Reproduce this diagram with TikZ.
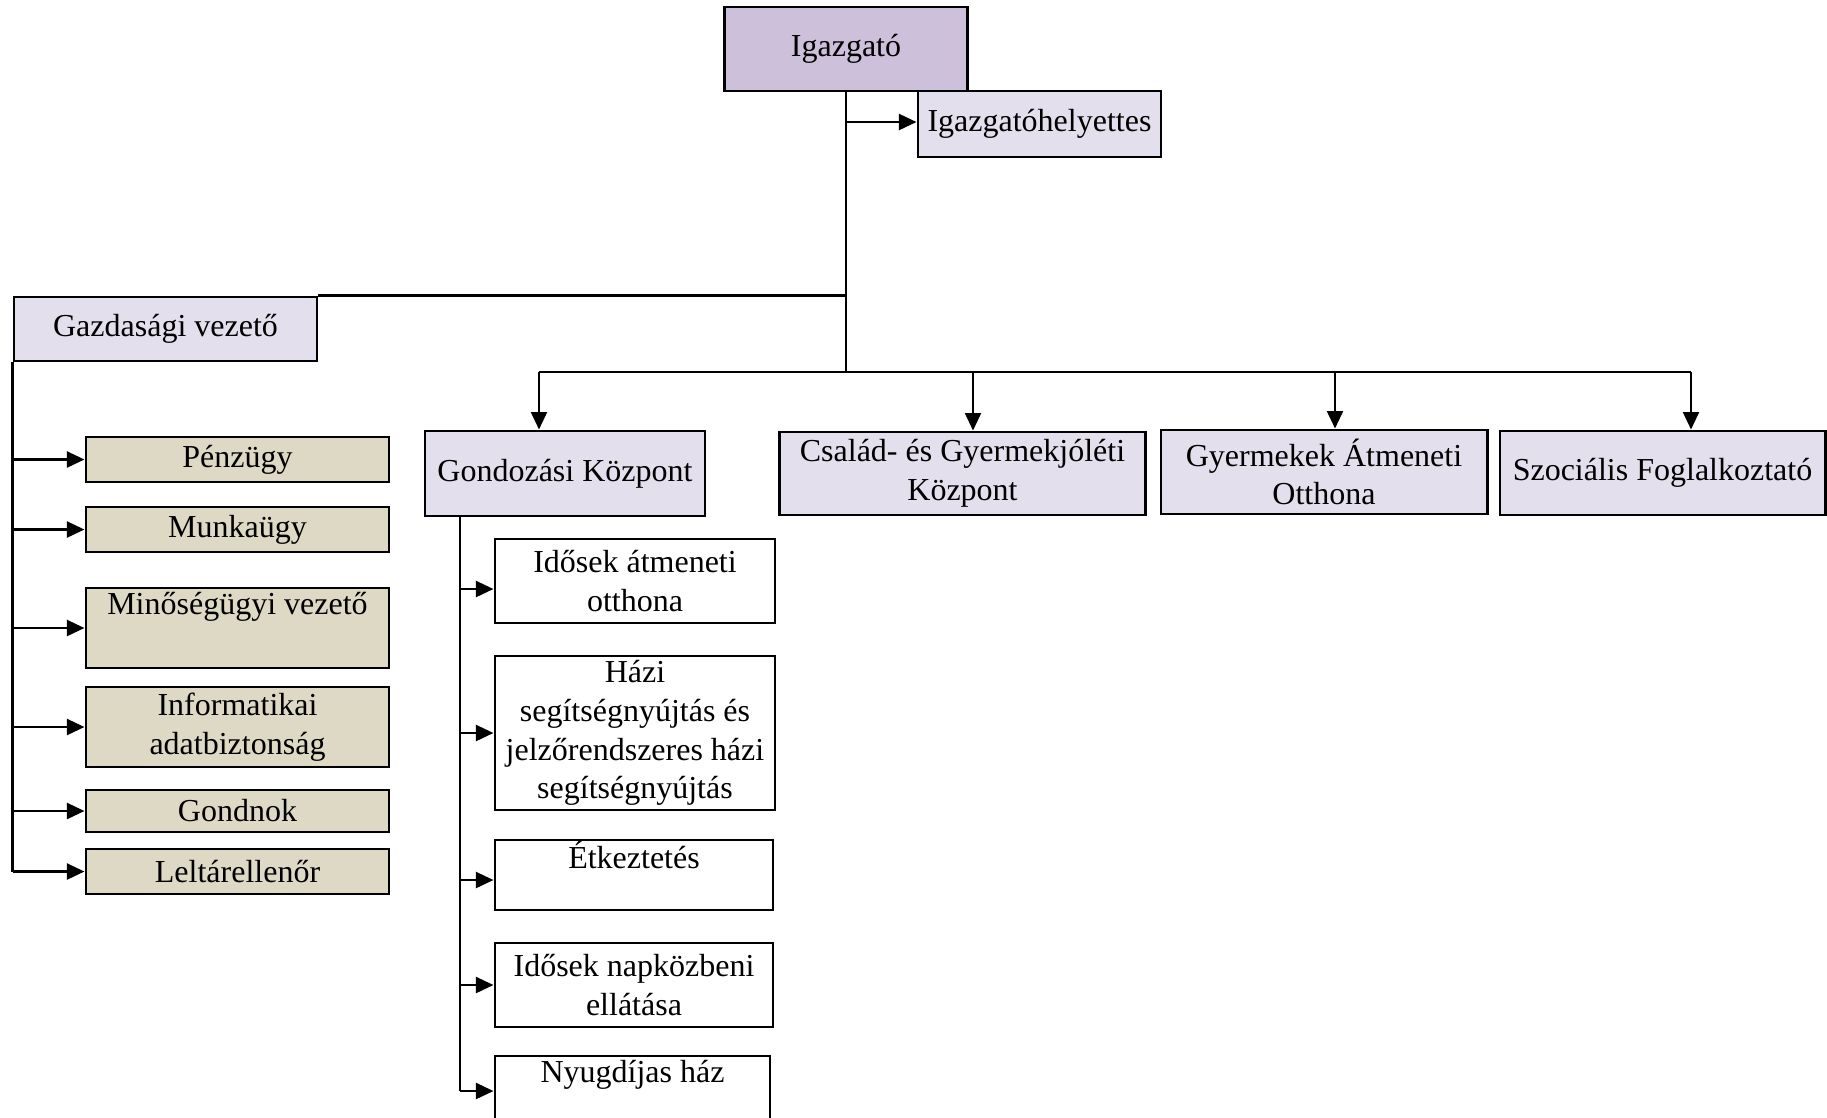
\documentclass[tikz,border=0pt]{standalone}
\usepackage{fontspec}
\setmainfont{Liberation Serif}
\usetikzlibrary{arrows.meta}

\begin{document}
\begin{tikzpicture}[x=0.01cm, y=-0.01cm,
        box/.style={draw, line width=0.8pt, align=center, inner sep=0pt, font=\fontsize{9.1}{11}\selectfont},
        arr/.style={line width=0.8pt, -{Triangle[length=5pt, width=4.5pt]}},
        ln/.style={line width=0.8pt}]
            \definecolor{Dcolor}{RGB}{204, 192, 218}
            \definecolor{Lcolor}{RGB}{228, 223, 236}
            \definecolor{Gcolor}{RGB}{221, 217, 196}
            \def\sidewidth{3.03cm}
            \def\subwidth{2.8cm}
            \def\rowheight{0.84cm}
            \useasboundingbox (0,0) rectangle (1827,1117);
            \clip (0,0) rectangle (1827,1117);
            % vezetes
            \node[box, fill=Dcolor, minimum width=2.43cm, minimum height=\rowheight] (igazgato) at (846, 49) {Igazgató};
            \node[box, fill=Lcolor, minimum width=2.43cm, minimum height=0.66cm] (helyettes) at (1039.5, 124) {Igazgatóhelyettes};
            \node[box, fill=Lcolor, minimum width=\sidewidth, minimum height=0.64cm] (gazd) at (165.5, 329) {Gazdasági vezető};
            \coordinate (t0) at (846, 122);
            \coordinate (elag) at (846, 372);
            \draw[ln] (igazgato.south) -- (elag);
            \draw[arr] (t0) -- (t0 -| helyettes.west);
            \draw[ln] (gazd.north east) -- (gazd.north east -| elag);
            % gazdasagi ag
            \node[box, fill=Gcolor, minimum width=\sidewidth, minimum height=0.45cm] (penzugy) at (237.5, 459.5) {Pénzügy};
            \node[box, fill=Gcolor, minimum width=\sidewidth, minimum height=0.45cm] (munkaugy) at (237.5, 529.5) {Munkaügy};
            \node[box, fill=Gcolor, minimum width=\sidewidth, minimum height=0.8cm] (minoseg) at (237.5, 628) {Minőségügyi vezető\\\strut};
            \node[box, fill=Gcolor, minimum width=\sidewidth, minimum height=0.8cm] (infobiz) at (237.5, 727) {Informatikai\\adatbiztonság};
            \node[box, fill=Gcolor, minimum width=\sidewidth, minimum height=0.42cm] (gondnok) at (237.5, 811) {Gondnok};
            \node[box, fill=Gcolor, minimum width=\sidewidth, minimum height=0.45cm] (leltar) at (237.5, 871.5) {Leltárellenőr};
            \draw[ln] (gazd.south west) -- (gazd.south west |- leltar.west);
            \draw[arr] (gazd.south west |- penzugy.west) -- (penzugy.west);
            \draw[arr] (gazd.south west |- munkaugy.west) -- (munkaugy.west);
            \draw[arr] (gazd.south west |- minoseg.west) -- (minoseg.west);
            \draw[arr] (gazd.south west |- infobiz.west) -- (infobiz.west);
            \draw[arr] (gazd.south west |- gondnok.west) -- (gondnok.west);
            \draw[arr] (gazd.south west |- leltar.west) -- (leltar.west);
            % szakmai egysegek
            \node[box, fill=Lcolor, minimum width=2.8cm, minimum height=0.85cm] (gond) at (565, 473.5) {Gondozási Központ};
            \node[box, fill=Lcolor, minimum width=3.65cm, minimum height=0.83cm] (csalad) at (962.5, 473.5) {Család- és Gyermekjóléti\\Központ};
            \node[box, fill=Lcolor, minimum width=3.26cm, minimum height=\rowheight] (atmeneti) at (1324, 472) {Gyermekek Átmeneti\\Otthona};
            \node[box, fill=Lcolor, minimum width=3.25cm, minimum height=\rowheight] (szocialis) at (1662.5, 473) {Szociális Foglalkoztató};
            \coordinate (a1) at (539, 372);
            \coordinate (a2) at (973, 372);
            \coordinate (a3) at (1335, 372);
            \coordinate (a4) at (1691, 372);
            \draw[ln] (a1) -- (a4);
            \draw[arr] (a1) -- (a1 |- gond.north);
            \draw[arr] (a2) -- (a2 |- csalad.north);
            \draw[arr] (a3) -- (a3 |- atmeneti.north);
            \draw[arr] (a4) -- (a4 |- szocialis.north);
            % gondozasi kozpont ellatasai
            \node[box, minimum width=\subwidth, minimum height=\rowheight] (idosek) at (635, 581) {Idősek átmeneti\\otthona};
            \node[box, minimum width=\subwidth, minimum height=1.54cm] (hazi) at (635, 733) {Házi\\segítségnyújtás és\\jelzőrendszeres házi\\segítségnyújtás};
            \node[box, minimum width=2.78cm, minimum height=0.7cm] (etkezes) at (634, 875) {Étkeztetés\\[-3pt]\strut};
            \node[box, minimum width=2.78cm, minimum height=\rowheight] (napkozi) at (634, 985) {Idősek napközbeni\\ellátása};
            \node[box, minimum width=2.75cm, minimum height=0.7cm] (nyugdij) at (632.5, 1091) {Nyugdíjas ház\\[-3pt]\strut};
            \coordinate (gv) at (460, 516);
            \draw[ln] (gv |- gond.south) -- (gv |- nyugdij.west);
            \draw[arr] ([yshift=-0.08cm]gv |- idosek.west) -- ([yshift=-0.08cm]idosek.west);
            \draw[arr] (gv |- hazi.west) -- (hazi.west);
            \draw[arr] ([yshift=-0.05cm]gv |- etkezes.west) -- ([yshift=-0.05cm]etkezes.west);
            \draw[arr] (gv |- napkozi.west) -- (napkozi.west);
            \draw[arr] (gv |- nyugdij.west) -- (nyugdij.west);
        \end{tikzpicture}
\end{document}
